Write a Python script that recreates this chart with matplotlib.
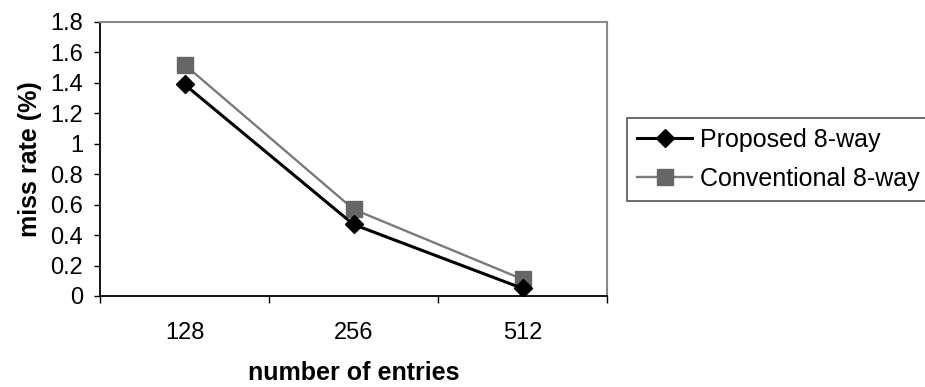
import matplotlib
matplotlib.use("Agg")
import matplotlib.pyplot as plt

plt.rcParams['font.family'] = ['Liberation Sans', 'DejaVu Sans']

# data
entries = ["128", "256", "512"]
proposed = [1.39, 0.47, 0.05]
conventional = [1.52, 0.57, 0.11]

fig = plt.figure(figsize=(9.25, 3.87), dpi=100)
ax = fig.add_axes([100 / 925, 1 - 296 / 387, 507 / 925, (296 - 22) / 387])

x = list(range(len(entries)))
ax.plot(x, proposed, color="black", lw=2.2, marker="D", ms=9,
        mfc="black", mec="black", label="Proposed 8-way", zorder=3)
ax.plot(x, conventional, color="#7a7a7a", lw=1.7, marker="s", ms=11.5,
        mfc="#666666", mec="#666666", label="Conventional 8-way", zorder=2)

ax.set_xlim(-0.5, len(entries) - 0.5)
ax.set_ylim(0, 1.8)
ax.set_yticks([0, 0.2, 0.4, 0.6, 0.8, 1, 1.2, 1.4, 1.6, 1.8])
ax.set_yticklabels(["0", "0.2", "0.4", "0.6", "0.8", "1", "1.2", "1.4", "1.6", "1.8"])
ax.set_xticks(x)
ax.set_xticklabels(entries)
ax.set_xticks([-0.5, 0.5, 1.5, 2.5], minor=True)
ax.tick_params(axis="x", which="major", length=0, pad=19, labelsize=17)
ax.tick_params(axis="x", which="minor", length=5, width=1, direction="out")
ax.tick_params(axis="y", length=4, width=1, direction="out", pad=8, labelsize=17)

for s in ["top", "right"]:
    ax.spines[s].set_color("#8a8a8a")
    ax.spines[s].set_linewidth(1.5)
for s in ["left", "bottom"]:
    ax.spines[s].set_color("black")
    ax.spines[s].set_linewidth(1.3)

ax.set_xlabel("number of entries", fontsize=18, fontweight="bold", labelpad=12)
ax.set_ylabel("miss rate (%)", fontsize=18, fontweight="bold", labelpad=6)

leg = ax.legend(loc="upper left", bbox_to_anchor=(627 / 925, 1 - 118 / 387),
                bbox_transform=fig.transFigure, borderaxespad=0, fancybox=False,
                edgecolor="#555555", fontsize=18, handlelength=2.2,
                handletextpad=0.32, borderpad=0.4, labelspacing=0.6,
                framealpha=1)
leg.get_frame().set_linewidth(1.2)

fig.savefig("out.png", dpi=100)
